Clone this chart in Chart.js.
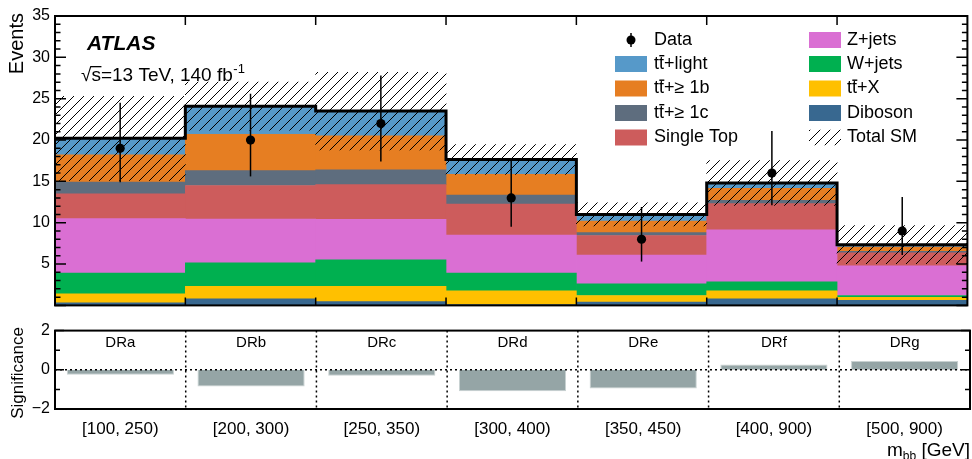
<!DOCTYPE html>
<html><head><meta charset="utf-8">
<script src="https://cdn.jsdelivr.net/npm/chart.js@4"></script>
<style>
body{margin:0;background:#fff;width:972px;height:459px;overflow:hidden;position:relative}
canvas{position:absolute;left:0}
</style></head>
<body>
<canvas id="main" width="972" height="320" style="top:0"></canvas>
<canvas id="sig" width="972" height="143" style="top:316px"></canvas>
<script>
// ---------- data ----------
const regions = ['DRa', 'DRb', 'DRc', 'DRd', 'DRe', 'DRf', 'DRg'];
const binLabels = ['[100, 250)', '[200, 300)', '[250, 350)', '[300, 400)', '[350, 450)', '[400, 900)', '[500, 900)'];
const seriesNames = ['Diboson', 'tt\u0304+X', 'W+jets', 'Z+jets', 'Single Top', 'tt\u0304+\u2265 1c', 'tt\u0304+\u2265 1b', 'tt\u0304+light'];
const diboson   = [0.30, 0.80, 0.45, 0.10, 0.40, 0.80, 0.60];
const ttX       = [1.10, 1.50, 1.85, 1.65, 0.80, 0.95, 0.37];
const wJets     = [2.50, 2.85, 3.20, 2.15, 1.40, 1.10, 0.23];
const zJets     = [6.60, 5.30, 4.90, 4.60, 3.50, 6.30, 3.60];
const singleTop = [3.00, 4.05, 4.20, 3.75, 2.35, 3.15, 1.55];
const tt1c      = [1.40, 1.80, 1.80, 1.10, 0.35, 0.40, 0.20];
const tt1b      = [3.30, 4.40, 4.10, 2.50, 1.40, 1.45, 0.50];
const ttLight   = [2.00, 3.40, 3.00, 1.80, 0.80, 0.65, 0.30];
const totalUnc  = [5.1, 2.9, 4.7, 1.8, 1.4, 2.7, 2.3];
const dataVals  = [19, 20, 22, 13, 8, 16, 9];
const dataLow   = [14.9, 15.6, 17.4, 9.5, 5.3, 12.1, 6.1];
const dataHigh  = [24.5, 25.6, 27.8, 17.5, 11.9, 21.1, 13.1];
const significance = [-0.25, -0.85, -0.30, -1.10, -0.95, 0.27, 0.45];

// ---------- styles ----------
const FONT = "'Liberation Sans', Arial, Helvetica, sans-serif";
Chart.defaults.font.family = FONT;
Chart.defaults.color = '#000';
const seriesColors = ['#386890', '#ffc000', '#00b050', '#da6fd3', '#cd5c5c', '#5e6d7e', '#e67e22', '#5699c9'];
const seriesValues = [diboson, ttX, wJets, zJets, singleTop, tt1c, tt1b, ttLight];
const nBins = binLabels.length;
const totals = binLabels.map((_, i) => seriesValues.reduce((s, arr) => s + arr[i], 0));

function makeHatch() {
  const c = document.createElement('canvas');
  c.width = 10; c.height = 10;
  const g = c.getContext('2d');
  g.strokeStyle = '#000'; g.lineWidth = 1;
  g.beginPath();
  g.moveTo(0, 10); g.lineTo(10, 0);
  g.moveTo(-5, 5); g.lineTo(5, -5);
  g.moveTo(5, 15); g.lineTo(15, 5);
  g.stroke();
  return c;
}
const hatchCanvas = makeHatch();
const hatch = document.getElementById('main').getContext('2d').createPattern(hatchCanvas, 'repeat');

function drawLabel(ctx, text, x, y) {
  const M = 'tt\u0304';
  if (text.startsWith(M)) {
    const rest = text.slice(3);
    const wt = ctx.measureText('t').width;
    ctx.fillText('tt' + rest, x, y);
    ctx.fillRect(x + wt + 0.3, y - 9, wt, 1.4);
  } else {
    ctx.fillText(text, x, y);
  }
}

// ---------- main chart ----------
const stackDatasets = seriesValues.map((arr, k) => ({
  type: 'bar',
  label: seriesNames[k],
  data: arr.map((v, i) => ({ x: i + 0.5, y: v })),
  backgroundColor: seriesColors[k],
  borderWidth: 0,
  grouped: false,
  barPercentage: 1, categoryPercentage: 1,
  xAxisID: 'x', yAxisID: 'y',
  order: 10
}));

const mainPlugin = {
  id: 'mainDeco',
  afterDatasetsDraw(chart) {
    const ctx = chart.ctx;
    const xs = chart.scales.xO, ys = chart.scales.yO;
    ctx.save();
    ctx.strokeStyle = '#000'; ctx.lineWidth = 1.5;
    for (let i = 0; i < nBins; i++) {
      const x = xs.getPixelForValue(i + 0.5);
      ctx.beginPath();
      ctx.moveTo(x, ys.getPixelForValue(dataLow[i]));
      ctx.lineTo(x, ys.getPixelForValue(dataHigh[i]));
      ctx.stroke();
    }
    ctx.restore();
  },
  afterDraw(chart) {
    const ctx = chart.ctx;
    const a = chart.chartArea;
    const xs = chart.scales.x, ys = chart.scales.y;
    ctx.save();
    // frame
    ctx.strokeStyle = '#000'; ctx.lineWidth = 2;
    ctx.strokeRect(a.left, a.top, a.right - a.left, a.bottom - a.top);
    // y ticks (left & right)
    ctx.lineWidth = 1.5;
    ctx.beginPath();
    for (let v = 0; v <= 35; v++) {
      const y = ys.getPixelForValue(v);
      const len = v % 5 === 0 ? 11 : 5.5;
      ctx.moveTo(a.left, y); ctx.lineTo(a.left + len, y);
      ctx.moveTo(a.right, y); ctx.lineTo(a.right - len, y);
    }
    // x ticks (top & bottom) at bin edges
    for (let e = 1; e < nBins; e++) {
      const x = xs.getPixelForValue(e);
      ctx.moveTo(x, a.top); ctx.lineTo(x, a.top + 9);
      ctx.moveTo(x, a.bottom); ctx.lineTo(x, a.bottom - 8);
    }
    ctx.stroke();

    // Events title
    ctx.fillStyle = '#000';
    ctx.save();
    ctx.translate(17, 13);
    ctx.rotate(-Math.PI / 2);
    ctx.font = '20px ' + FONT;
    ctx.textAlign = 'right'; ctx.textBaseline = 'middle';
    ctx.fillText('Events', 0, 0);
    ctx.restore();

    // ATLAS label
    ctx.textAlign = 'left'; ctx.textBaseline = 'alphabetic';
    ctx.font = 'italic bold 21px ' + FONT;
    ctx.fillText('ATLAS', 87, 50);
    ctx.font = '19px ' + FONT;
    const sq = '\u221A';
    const x0 = 81, yb = 81;
    ctx.fillText(sq + 's=13 TeV, 140 fb', x0, yb);
    const wsq = ctx.measureText(sq).width;
    const ws = ctx.measureText('s').width;
    ctx.fillRect(x0 + wsq - 1, yb - 15, ws + 1.5, 1.3);
    const wAll = ctx.measureText(sq + 's=13 TeV, 140 fb').width;
    ctx.font = '13px ' + FONT;
    ctx.fillText('-1', x0 + wAll + 0.5, yb - 8);

    // legend
    ctx.font = '18px ' + FONT;
    ctx.textBaseline = 'middle';
    const rowY = [40, 64, 88.5, 113, 137.5];
    const col1 = [{ type: 'data', label: 'Data' }, { k: 7 }, { k: 6 }, { k: 5 }, { k: 4 }];
    const col2 = [{ k: 3 }, { k: 2 }, { k: 1 }, { k: 0 }, { type: 'hatch', label: 'Total SM' }];
    const drawCol = (items, bx, tx) => {
      items.forEach((it, r) => {
        const y = rowY[r];
        if (it.type === 'data') {
          ctx.strokeStyle = '#000'; ctx.lineWidth = 1.5;
          ctx.beginPath(); ctx.moveTo(bx + 16, y - 7); ctx.lineTo(bx + 16, y + 7); ctx.stroke();
          ctx.beginPath(); ctx.arc(bx + 16, y, 4.5, 0, Math.PI * 2); ctx.fill();
          ctx.fillText(it.label, tx, y);
        } else if (it.type === 'hatch') {
          ctx.save();
          ctx.beginPath(); ctx.rect(bx, y - 8, 32, 16); ctx.clip();
          ctx.fillStyle = hatch; ctx.fillRect(bx, y - 8, 32, 16);
          ctx.restore();
          ctx.fillText(it.label, tx, y);
        } else {
          ctx.fillStyle = seriesColors[it.k];
          ctx.fillRect(bx, y - 8, 32, 16);
          ctx.fillStyle = '#000';
          drawLabel(ctx, seriesNames[it.k], tx, y);
        }
      });
    };
    drawCol(col1, 615, 654);
    drawCol(col2, 809, 847);
    ctx.restore();
  }
};

new Chart(document.getElementById('main'), {
  data: {
    datasets: [
      ...stackDatasets,
      {
        type: 'bar', label: 'Total SM',
        data: totals.map((t, i) => ({ x: i + 0.5, y: [t - totalUnc[i], t + totalUnc[i]] })),
        backgroundColor: hatch, borderWidth: 0, grouped: false,
        barPercentage: 1, categoryPercentage: 1,
        xAxisID: 'xO', yAxisID: 'yO', order: 3
      },
      {
        type: 'line', label: 'total',
        data: [...totals.map((t, i) => ({ x: i, y: t })), { x: nBins, y: totals[nBins - 1] }],
        stepped: true, borderColor: '#000', borderWidth: 3, pointRadius: 0, fill: false,
        xAxisID: 'xO', yAxisID: 'yO', order: 2
      },
      {
        type: 'line', label: 'Data',
        data: dataVals.map((v, i) => ({ x: i + 0.5, y: v })),
        showLine: false, pointRadius: 4.6, pointBackgroundColor: '#000', pointBorderWidth: 0,
        xAxisID: 'xO', yAxisID: 'yO', order: 1
      }
    ]
  },
  options: {
    responsive: false, animation: false, devicePixelRatio: 1, events: [],
    layout: { padding: { top: 16, bottom: 5, left: 0, right: 2 } },
    plugins: { legend: { display: false }, tooltip: { enabled: false } },
    scales: {
      x: { type: 'linear', min: 0, max: nBins, stacked: true, display: false, offset: false },
      y: {
        type: 'linear', min: 0, max: 35, stacked: true, position: 'left',
        afterFit: s => { s.width = 55; },
        grid: { display: false, drawTicks: false },
        border: { display: false },
        ticks: { stepSize: 5, padding: 5, font: { size: 16 }, color: '#000',
          callback: v => v === 0 ? '' : String(v) }
      },
      xO: { type: 'linear', min: 0, max: nBins, display: false, offset: false },
      yO: { type: 'linear', min: 0, max: 35, display: false }
    }
  },
  plugins: [mainPlugin]
});

// ---------- significance chart ----------
const sigPlugin = {
  id: 'sigDeco',
  afterDraw(chart) {
    const ctx = chart.ctx;
    const a = chart.chartArea;
    const xs = chart.scales.x, ys = chart.scales.y;
    ctx.save();
    // dotted lines
    ctx.strokeStyle = '#000'; ctx.lineWidth = 1.5; ctx.setLineDash([2, 3]);
    ctx.beginPath();
    for (let e = 1; e < nBins; e++) {
      const x = xs.getPixelForValue(e);
      ctx.moveTo(x, a.top); ctx.lineTo(x, a.bottom);
    }
    const y0 = ys.getPixelForValue(0);
    ctx.moveTo(a.left, y0); ctx.lineTo(a.right, y0);
    ctx.stroke();
    ctx.setLineDash([]);
    // frame
    ctx.lineWidth = 2;
    ctx.strokeRect(a.left, a.top, a.right - a.left, a.bottom - a.top);
    // ticks
    ctx.lineWidth = 1.5;
    ctx.beginPath();
    for (let v = -2; v <= 2; v++) {
      const y = ys.getPixelForValue(v);
      const len = v % 2 === 0 ? 9 : 5;
      ctx.moveTo(a.left, y); ctx.lineTo(a.left + len, y);
      ctx.moveTo(a.right, y); ctx.lineTo(a.right - len, y);
    }
    ctx.stroke();
    // region labels
    ctx.fillStyle = '#000';
    ctx.font = '15px ' + FONT;
    ctx.textAlign = 'center'; ctx.textBaseline = 'middle';
    regions.forEach((r, i) => ctx.fillText(r, xs.getPixelForValue(i + 0.5), 27));
    // bin labels
    ctx.font = '17px ' + FONT;
    binLabels.forEach((l, i) => ctx.fillText(l, xs.getPixelForValue(i + 0.5), 113));
    // Significance title
    ctx.save();
    ctx.translate(18, 57);
    ctx.rotate(-Math.PI / 2);
    ctx.font = '17px ' + FONT;
    ctx.fillText('Significance', 0, 0);
    ctx.restore();
    // x title m_bb [GeV]
    ctx.textAlign = 'left'; ctx.textBaseline = 'alphabetic';
    const big = '19px ' + FONT, small = '12px ' + FONT;
    ctx.font = big;
    const wm = ctx.measureText('m').width;
    const wg = ctx.measureText(' [GeV]').width;
    ctx.font = small;
    const wb = ctx.measureText('bb').width;
    const xr = a.right;
    const yb = 140;
    let x = xr - wg - wb - wm;
    ctx.font = big; ctx.fillText('m', x, yb);
    ctx.font = small; ctx.fillText('bb', x + wm, yb + 4);
    ctx.font = big; ctx.fillText(' [GeV]', x + wm + wb, yb);
    ctx.restore();
  }
};

new Chart(document.getElementById('sig'), {
  type: 'bar',
  data: {
    datasets: [{
      label: 'Significance',
      data: significance.map((v, i) => ({ x: i + 0.5, y: v })),
      backgroundColor: '#95a5a6', borderColor: '#c9d2d2', borderWidth: 1,
      barPercentage: 0.82, categoryPercentage: 1
    }]
  },
  options: {
    responsive: false, animation: false, devicePixelRatio: 1, events: [],
    layout: { padding: { top: 12, bottom: 50, left: 0, right: 2 } },
    plugins: { legend: { display: false }, tooltip: { enabled: false } },
    scales: {
      x: { type: 'linear', min: 0, max: nBins, display: false, offset: false },
      y: {
        type: 'linear', min: -2, max: 2, position: 'left',
        afterFit: s => { s.width = 55; },
        grid: { display: false, drawTicks: false },
        border: { display: false },
        ticks: { stepSize: 2, padding: 5, font: { size: 16 }, color: '#000',
          callback: v => v < 0 ? '\u2212' + Math.abs(v) : String(v) }
      }
    }
  },
  plugins: [sigPlugin]
});
</script>
</body></html>
